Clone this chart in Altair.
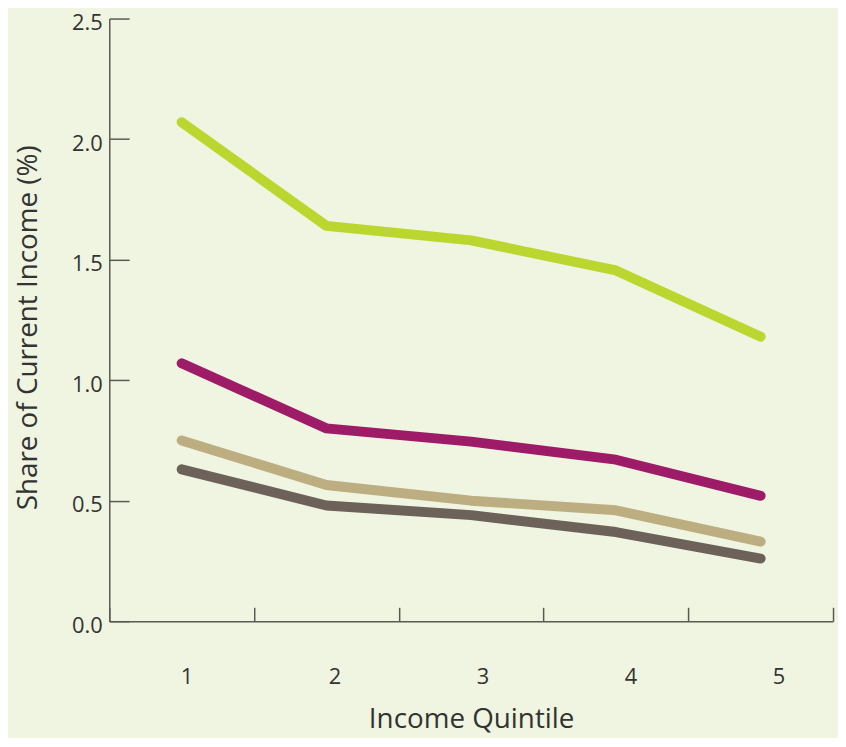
import altair as alt
import pandas as pd

quintiles = ["1", "2", "3", "4", "5"]
series_names = ["Series A", "Series B", "Series C", "Series D"]
series_a = [2.07, 1.64, 1.58, 1.455, 1.18]
series_b = [1.07, 0.80, 0.745, 0.67, 0.52]
series_c = [0.75, 0.565, 0.50, 0.46, 0.33]
series_d = [0.63, 0.48, 0.44, 0.37, 0.26]
colors = ["#bcd630", "#9e1b68", "#bcae80", "#6c6259"]
y_ticks = [0.0, 0.5, 1.0, 1.5, 2.0, 2.5]

rows = []
for name, vals in zip(series_names, [series_a, series_b, series_c, series_d]):
    for q, v in zip(quintiles, vals):
        rows.append({"quintile": q, "share": v, "series": name})
df = pd.DataFrame(rows)

font = "Open Sans"
axis_color = "#5a5a55"

chart = alt.Chart(df).mark_line(strokeWidth=10, strokeCap="round", strokeJoin="round").encode(
    x=alt.X("quintile:O",
            scale=alt.Scale(type="band", domain=quintiles, paddingInner=0, paddingOuter=0),
            axis=alt.Axis(title="Income Quintile", labelAngle=0, tickBand="extent",
                          tickSize=alt.ExprRef("-14"), labelPadding=60,
                          labelOffset=alt.ExprRef("5 + datum.index * 13"),
                          titleY=99, titleBaseline="middle",
                          titleFontSize=28, titleFontWeight="normal",
                          labelFontSize=22, domainColor=axis_color, tickColor=axis_color,
                          domainWidth=1.5, tickWidth=1.5, labelColor="#333333",
                          titleColor="#333333", titleFont=font, labelFont=font)),
    y=alt.Y("share:Q",
            scale=alt.Scale(domain=[0, 2.5], nice=False),
            axis=alt.Axis(title="Share of Current Income (%)", values=y_ticks, format=".1f",
                          tickSize=alt.ExprRef("-20"), labelPadding=27, labelOffset=4,
                          titleX=-81, titleY=311, titleBaseline="middle",
                          titleFontSize=28, titleFontWeight="normal",
                          labelFontSize=22, domainColor=axis_color, tickColor=axis_color,
                          domainWidth=1.5, tickWidth=1.5, grid=False, labelColor="#333333",
                          titleColor="#333333", titleFont=font, labelFont=font)),
    color=alt.Color("series:N", scale=alt.Scale(domain=series_names, range=colors), legend=None),
).properties(
    width=729, height=607,
    autosize=alt.AutoSizeParams(type="none"),
    padding={"left": 102, "top": 8, "right": 5, "bottom": 115},
    background="#eff5e0",
).configure_view(stroke=None)

chart.save("out.html", embed_options={"renderer": "svg", "actions": False})
